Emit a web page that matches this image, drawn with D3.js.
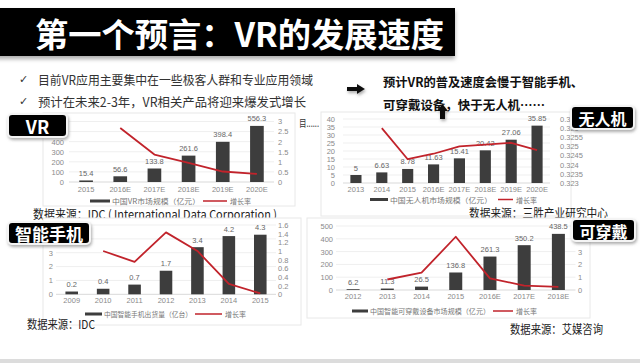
<!DOCTYPE html>
<html>
<head>
<meta charset="utf-8">
<script src="https://cdn.jsdelivr.net/npm/d3@7"></script>
<style>
  body { margin: 0; background: #fff; }
  svg { display: block; font-family: "Noto Sans CJK SC", "Liberation Sans", sans-serif; }
</style>
</head>
<body>
<svg id="chart" width="640" height="363"></svg>
<script>
// --- Data ---

const vrYears = ['2015', '2016E', '2017E', '2018E', '2019E', '2020E'];
const vrMarket = [15.4, 56.6, 133.8, 261.6, 398.4, 556.3];
const vrGrowth = [null, 2.68, 1.36, 0.95, 0.52, 0.40];
const vrLeftTicks = [0, 100, 200, 300, 400, 500, 600];
const vrRightTicks = [0, 0.5, 1, 1.5, 2, 2.5, 3];

const droneYears = ['2013', '2014', '2015', '2016E', '2017E', '2018E', '2019E', '2020E'];
const droneMarket = [5, 6.63, 8.78, 11.63, 15.41, 20.42, 27.06, 35.85];
const droneGrowth = [null, 0.3260, 0.3243, 0.3246, 0.3250, 0.3251, 0.3252, 0.3248];
const droneLeftTicks = [0, 5, 10, 15, 20, 25, 30, 35, 40];
const droneRightTicks = [0.323, 0.3235, 0.324, 0.3245, 0.325, 0.3255, 0.326, 0.3265];

const phoneYears = ['2009', '2010', '2011', '2012', '2013', '2014', '2015'];
const phoneShipments = [0.2, 0.4, 0.7, 1.7, 3.4, 4.2, 4.3];
const phoneGrowth = [null, 1.0, 0.75, 1.43, 1.0, 0.24, 0.02];
const phoneLeftTicks = [0, 1, 2, 3, 4, 5];
const phoneRightTicks = [0, 0.2, 0.4, 0.6, 0.8, 1, 1.2, 1.4, 1.6];

const wearYears = ['2012', '2013', '2014', '2015', '2016E', '2017E', '2018E'];
const wearMarket = [6.2, 11.3, 26.5, 136.8, 261.3, 350.2, 438.5];
const wearGrowth = [null, 0.82, 1.35, 4.16, 0.91, 0.34, 0.25];
const wearLeftTicks = [0, 100, 200, 300, 400, 500];
const wearRightTicks = [0, 1, 2, 3, 4, 5];

const bullets = ['目前VR应用主要集中在一些极客人群和专业应用领域', '预计在未来2-3年，VR相关产品将迎来爆发式增长'];
const conclusion = ['预计VR的普及速度会慢于智能手机、', '可穿戴设备，快于无人机……'];

const RED = '#c1232b';
const BAR = '#3d3d3d';
const svg = d3.select('#chart');

// --- Filters ---
const defs = svg.append('defs');
const sh = defs.append('filter').attr('id', 'shadow').attr('x', '-20%').attr('y', '-30%').attr('width', '140%').attr('height', '170%');
sh.append('feDropShadow').attr('dx', 1).attr('dy', 2).attr('stdDeviation', 1.5).attr('flood-color', '#777').attr('flood-opacity', 0.6);
const tsh = defs.append('filter').attr('id', 'tshadow').attr('x', '-5%').attr('y', '-10%').attr('width', '110%').attr('height', '140%');
tsh.append('feDropShadow').attr('dx', 0).attr('dy', 3).attr('stdDeviation', 2).attr('flood-color', '#888').attr('flood-opacity', 0.7);

// --- Title ---
svg.append('rect').attr('x', -5).attr('y', 8).attr('width', 460).attr('height', 48)
  .attr('fill', '#000').attr('filter', 'url(#tshadow)');
svg.append('text').attr('x', 35).attr('y', 33).attr('dominant-baseline', 'central')
  .attr('fill', '#fff').attr('font-size', 33).attr('font-weight', 700)
  .attr('textLength', 409).attr('lengthAdjust', 'spacingAndGlyphs')
  .text('第一个预言：VR的发展速度');

// --- Bullets ---
const bulletY = [79, 101];
const bulletW = [275, 268];
bullets.forEach((t, i) => {
  svg.append('text').attr('x', 19).attr('y', bulletY[i]).attr('dominant-baseline', 'central')
    .attr('font-size', 11).attr('fill', '#333').attr('font-family', 'DejaVu Sans').text('✓');
  svg.append('text').attr('x', 38).attr('y', bulletY[i]).attr('dominant-baseline', 'central')
    .attr('font-size', 12.5).attr('fill', '#333')
    .attr('textLength', bulletW[i]).attr('lengthAdjust', 'spacingAndGlyphs').text(t);
});

// right arrow
svg.append('path').attr('d', 'M347,87 L357,87 L357,84 L365,89 L357,94 L357,91 L347,91 Z')
  .attr('fill', '#111').attr('filter', 'url(#shadow)');

svg.append('text').attr('x', 299).attr('y', 122).attr('dominant-baseline', 'central')
  .attr('font-size', 10.5).attr('fill', '#333')
  .attr('textLength', 20).attr('lengthAdjust', 'spacingAndGlyphs').text('目......');

// --- Combo chart helper ---
function drawCombo(c) {
  const g = svg.append('g');
  g.append('rect').attr('x', c.frame[0]).attr('y', c.frame[1])
    .attr('width', c.frame[2]).attr('height', c.frame[3])
    .attr('fill', '#fff').attr('stroke', '#e8e8e8');

  const x = d3.scaleBand().domain(c.cats).range(c.xr);
  const yL = d3.scaleLinear().domain(c.leftDomain).range(c.yr);
  const yR = d3.scaleLinear().domain(c.rightDomain).range(c.yr);
  const fmt = d => String(+d.toFixed(4));
  const hidden = c.hidden || {};

  // gridlines
  g.append('g').selectAll('line').data(c.leftTicks).join('line')
    .attr('x1', c.xr[0]).attr('x2', c.xr[1])
    .attr('y1', d => yL(d)).attr('y2', d => yL(d))
    .attr('stroke', d => d === 0 ? '#d9d9d9' : '#efefef');

  const styleAxis = sel => {
    sel.select('.domain').remove();
    sel.attr('font-family', '"Liberation Sans", sans-serif').attr('font-size', 7.5);
    sel.selectAll('text').attr('fill', '#8a8a8a');
  };

  // labels covered by the black name tag are left out
  g.append('g').attr('transform', `translate(${c.leftX},0)`)
    .call(d3.axisLeft(yL).tickValues(c.leftTicks.filter(d => !(hidden.left || []).includes(d)))
      .tickFormat(fmt).tickSize(0).tickPadding(0))
    .call(styleAxis);
  g.append('g').attr('transform', `translate(${c.rightX},0)`)
    .call(d3.axisRight(yR).tickValues(c.rightTicks.filter(d => !(hidden.right || []).includes(d)))
      .tickFormat(fmt).tickSize(0).tickPadding(0))
    .call(styleAxis);
  g.append('g').attr('transform', `translate(0,${c.xLabelY - 3.5})`)
    .call(d3.axisBottom(x).tickSize(0).tickPadding(0))
    .call(styleAxis);

  const bw = x.bandwidth() * c.barFrac;
  const rows = c.cats.map((k, i) => ({ k, v: c.bars[i], g: c.line[i] }));

  g.append('g').selectAll('rect').data(rows).join('rect')
    .attr('x', d => x(d.k) + (x.bandwidth() - bw) / 2)
    .attr('y', d => yL(d.v))
    .attr('width', bw)
    .attr('height', d => yL(0) - yL(d.v))
    .attr('fill', BAR);

  g.append('g').selectAll('text').data(rows).join('text')
    .attr('x', d => x(d.k) + x.bandwidth() / 2)
    .attr('y', d => yL(d.v) - 7)
    .attr('text-anchor', 'middle').attr('dominant-baseline', 'central')
    .attr('font-family', '"Liberation Sans", sans-serif')
    .attr('font-size', 7.5).attr('fill', '#666')
    .text(d => d.v);

  const line = d3.line()
    .defined(d => d.g != null)
    .x(d => x(d.k) + x.bandwidth() / 2)
    .y(d => yR(d.g));
  g.append('path').datum(rows).attr('d', line)
    .attr('fill', 'none').attr('stroke', RED).attr('stroke-width', 1.8)
    .attr('stroke-linejoin', 'round');

  // legend
  const L = c.legend;
  g.append('rect').attr('x', L.sx).attr('y', L.y - 1.5).attr('width', L.sw).attr('height', 3).attr('fill', BAR);
  g.append('text').attr('x', L.sx + L.sw + 2).attr('y', L.y).attr('dominant-baseline', 'central')
    .attr('font-size', 7).attr('fill', '#777')
    .attr('textLength', L.tw).attr('lengthAdjust', 'spacingAndGlyphs').text(c.seriesName);
  g.append('line').attr('x1', L.rx).attr('x2', L.rx + L.rw).attr('y1', L.y).attr('y2', L.y)
    .attr('stroke', RED).attr('stroke-width', 1.5);
  g.append('text').attr('x', L.rx + L.rw + 3).attr('y', L.y).attr('dominant-baseline', 'central')
    .attr('font-size', 7).attr('fill', '#777').text('增长率');
}

function source(x, y, w, t) {
  svg.append('text').attr('x', x).attr('y', y).attr('dominant-baseline', 'central')
    .attr('font-size', 12).attr('fill', '#222')
    .attr('textLength', w).attr('lengthAdjust', 'spacingAndGlyphs').text(t);
}

function tag(x, y, w, h, t, fs) {
  svg.append('rect').attr('x', x).attr('y', y).attr('width', w).attr('height', h).attr('rx', 4)
    .attr('fill', '#050505').attr('stroke', '#f4f4f4').attr('stroke-width', 2)
    .attr('filter', 'url(#shadow)');
  svg.append('text').attr('x', x + w / 2).attr('y', y + h / 2 + 0.5)
    .attr('text-anchor', 'middle').attr('dominant-baseline', 'central')
    .attr('font-size', fs).attr('font-weight', 700).attr('fill', '#fff').text(t);
}

// --- VR ---
drawCombo({
  frame: [43, 113, 252, 93],
  cats: vrYears, bars: vrMarket, line: vrGrowth,
  leftDomain: [0, 600], rightDomain: [0, 3], leftTicks: vrLeftTicks, rightTicks: vrRightTicks,
  hidden: { left: [500, 600] },
  xr: [69, 274], yr: [182, 121.5], leftX: 64, rightX: 278, xLabelY: 190, barFrac: 0.4,
  seriesName: '中国VR市场规模（亿元）',
  legend: { y: 201, sx: 90, sw: 20, tw: 88, rx: 203, rw: 24 }
});
source(33, 213, 244, '数据来源：IDC ( International Data Corporation )');
tag(8, 114, 59, 23, 'VR', 18);

// --- Drone ---
drawCombo({
  frame: [321, 112, 250, 104],
  cats: droneYears, bars: droneMarket, line: droneGrowth,
  leftDomain: [0, 40], rightDomain: [0.323, 0.3265], leftTicks: droneLeftTicks, rightTicks: droneRightTicks,
  xr: [343, 550], yr: [183, 119], leftX: 335, rightX: 560, xLabelY: 190, barFrac: 0.43,
  seriesName: '中国无人机市场规模（亿元）',
  legend: { y: 199.5, sx: 370, sw: 18, tw: 102, rx: 498, rw: 15 }
});
source(469, 212, 139, '数据来源：三胜产业研究中心');

// conclusion text sits above the drone chart
const conclY = [81, 104];
const conclW = [200, 162];
conclusion.forEach((t, i) => {
  svg.append('text').attr('x', 383).attr('y', conclY[i]).attr('dominant-baseline', 'central')
    .attr('font-size', 12.5).attr('font-weight', 700).attr('fill', '#111')
    .attr('textLength', conclW[i]).attr('lengthAdjust', 'spacingAndGlyphs').text(t);
});

// up arrow over the drone chart
svg.append('path').attr('d', 'M442.5,104 L448,111 L445,111 L445,119 L440,119 L440,111 L437,111 Z')
  .attr('fill', '#111').attr('filter', 'url(#shadow)');
tag(571, 106, 63, 23, '无人机', 16);

// --- Smartphone ---
drawCombo({
  frame: [43, 218, 258, 107],
  cats: phoneYears, bars: phoneShipments, line: phoneGrowth,
  hidden: { left: [4, 5] },
  leftDomain: [0, 5], rightDomain: [0, 1.6], leftTicks: phoneLeftTicks, rightTicks: phoneRightTicks,
  xr: [56, 276], yr: [294.3, 225], leftX: 53, rightX: 278, xLabelY: 301, barFrac: 0.4,
  seriesName: '中国智能手机出货量（亿台）',
  legend: { y: 314, sx: 85, sw: 17, tw: 88, rx: 195, rw: 27 }
});
source(27, 323, 68, '数据来源：IDC');
tag(8, 222, 82, 22, '智能手机', 17);

// --- Wearables ---
drawCombo({
  frame: [307, 218, 283, 100],
  cats: wearYears, bars: wearMarket, line: wearGrowth,
  hidden: { right: [4, 5] },
  leftDomain: [0, 500], rightDomain: [0, 5], leftTicks: wearLeftTicks, rightTicks: wearRightTicks,
  xr: [336, 575.5], yr: [290, 226], leftX: 333, rightX: 578, xLabelY: 297, barFrac: 0.38,
  seriesName: '中国智能可穿戴设备市场规模（亿元）',
  legend: { y: 311, sx: 352, sw: 16, tw: 120, rx: 493, rw: 20 }
});
source(510, 328, 93, '数据来源：艾媒咨询');
tag(572, 219, 63, 22, '可穿戴', 16);

// bottom strip
svg.append('rect').attr('x', 0).attr('y', 359).attr('width', 640).attr('height', 4).attr('fill', '#dcdcdc');
</script>
</body>
</html>
